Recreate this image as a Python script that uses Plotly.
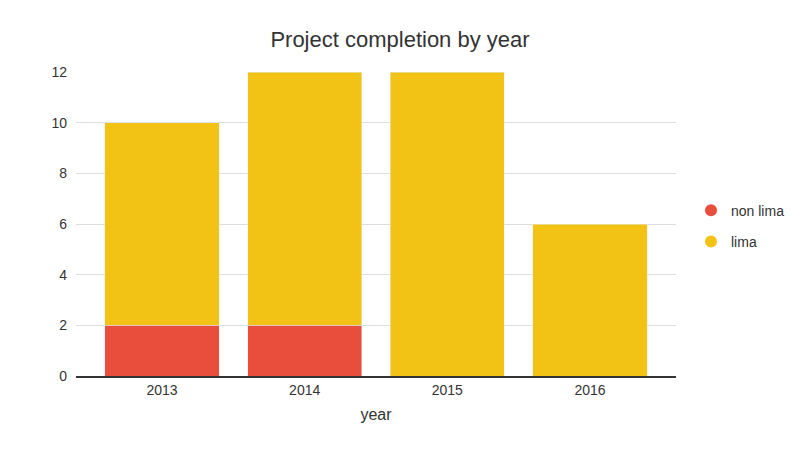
import plotly.graph_objects as go

years = ["2013", "2014", "2015", "2016"]
non_lima = [2, 2, 0, 0]
lima = [8, 10, 12, 6]

RED = "#E94E3D"
YEL = "#F2C314"

fig = go.Figure()
fig.add_bar(x=years, y=non_lima, name="non lima", marker_color=RED, showlegend=False)
fig.add_bar(x=years, y=lima, name="lima", marker_color=YEL, showlegend=False)
fig.add_scatter(x=[None], y=[None], mode="markers", name="non lima", legendgroup="a",
                marker=dict(color=RED, size=16, symbol="circle"))
fig.add_scatter(x=[None], y=[None], mode="markers", name="lima", legendgroup="b",
                marker=dict(color=YEL, size=16, symbol="circle"))

fig.update_layout(
    width=800, height=450,
    barmode="stack", bargap=0.2,
    plot_bgcolor="white", paper_bgcolor="white",
    font=dict(family="Liberation Sans, Arial, sans-serif", color="#333333", size=14),
    title=dict(text="Project completion by year", x=0.5, xanchor="center", y=0.912, yanchor="middle",
               font=dict(size=22, color="#333333")),
    margin=dict(l=76, r=124, t=72, b=74, autoexpand=False),
    legend=dict(x=1.025, xanchor="left", y=0.493, yanchor="middle", traceorder="grouped",
                tracegroupgap=10, font=dict(size=14, color="#333333"), itemsizing="constant"),
    xaxis=dict(title=dict(text="year", font=dict(size=16), standoff=12),
               range=[-0.603, 3.603],
               showline=True, linecolor="#333333", linewidth=2, ticks="", showgrid=False),
    yaxis=dict(range=[0, 12], dtick=2, showgrid=True, gridcolor="#DDDDDD", zeroline=False,
               ticks="", ticklabelstandoff=8),
)
fig.write_html("out.html", config={"displayModeBar": False},
               post_script="document.body.style.margin='0';")
